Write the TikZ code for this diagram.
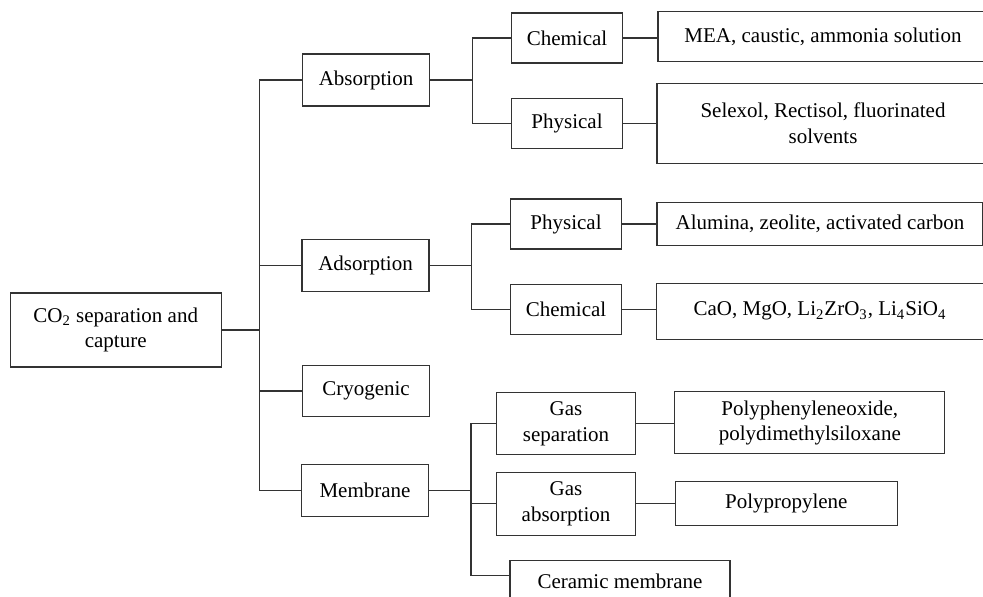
\documentclass[tikz,border=0pt]{standalone}
\usepackage{fontspec}
\setmainfont{Liberation Serif}
\usepackage{tikz}
\usetikzlibrary{calc}
\tikzset{>=latex}
\tikzset{
  box/.style={draw=black!80,line width=0.6pt,inner sep=1pt,align=center,
    font=\fontsize{10.5}{12.6}\selectfont},
  link/.style={draw=black!80,line width=0.6pt}
}

\begin{document}
\begin{tikzpicture}[x=0.5pt,y=-0.5pt]
    \useasboundingbox (0,0) rectangle (983,597);
    \clip (0,0) rectangle (983,597);
    \node[box,minimum width=105.5pt,minimum height=37pt] (root) at (115.7,330) {CO\textsubscript{2} separation and\\capture};
    \node[box,minimum width=63.5pt,minimum height=26pt] (absorp) at (366,80) {Absorption};
    \node[box,minimum width=63.5pt,minimum height=26pt] (adsorp) at (365.5,265.8) {Adsorption};
    \node[box,minimum width=63.5pt,minimum height=25.5pt] (cryo) at (366,391) {Cryogenic};
    \node[box,minimum width=63.5pt,minimum height=26pt] (membr) at (365,490.7) {Membrane};
    \node[box,minimum width=55.5pt,minimum height=25pt] (abschem) at (567,38) {Chemical};
    \node[box,minimum width=55.5pt,minimum height=25pt] (absphys) at (567,123.7) {Physical};
    \node[box,minimum width=55.5pt,minimum height=25pt] (adsphys) at (566,224) {Physical};
    \node[box,minimum width=55.5pt,minimum height=25pt] (adschem) at (566,309.3) {Chemical};
    \node[box,minimum width=69.25pt,minimum height=31pt] (gassep) at (566,423.8) {Gas\\separation};
    \node[box,minimum width=69.25pt,minimum height=31.5pt] (gasabs) at (566,503.7) {Gas\\absorption};
    \node[box,minimum width=110pt,minimum height=21pt] (ceramic) at (620,581.7) {Ceramic membrane};
    \node[box,minimum width=165pt,minimum height=25pt] (mea) at (823,36.7) {MEA, caustic, ammonia solution};
    \node[box,minimum width=166pt,minimum height=40pt] (selexol) at (823,123.2) {Selexol, Rectisol, fluorinated\\solvents};
    \node[box,minimum width=163pt,minimum height=21.5pt] (alumina) at (820,224.2) {Alumina, zeolite, activated carbon};
    \node[box,minimum width=163.5pt,minimum height=28pt] (cao) at (820,311.3) {CaO, MgO, Li\textsubscript{2}ZrO\textsubscript{3}, Li\textsubscript{4}SiO\textsubscript{4}};
    \node[box,minimum width=135pt,minimum height=31pt] (polyox) at (809.8,422.8) {Polyphenyleneoxide,\\polydimethylsiloxane};
    \node[box,minimum width=111pt,minimum height=22pt] (polypro) at (786.3,503.2) {Polypropylene};

    \coordinate (trunk) at (259.7,330);
    \coordinate (absfork) at (472.3,80);
    \coordinate (adsfork) at (471.7,265.8);
    \coordinate (memfork) at (471,490.7);

    \draw[link] (root.east) -- (trunk);
    \foreach \n in {absorp,adsorp,cryo,membr}
      \draw[link] (trunk) |- (\n.west);
    \draw[link] (absorp.east) -- (absfork);
    \foreach \n in {abschem,absphys}
      \draw[link] (absfork) |- (\n.west);
    \draw[link] (adsorp.east) -- (adsfork);
    \foreach \n in {adsphys,adschem}
      \draw[link] (adsfork) |- (\n.west);
    \draw[link] (membr.east) -- (memfork);
    \foreach \n in {gassep,gasabs}
      \draw[link] (memfork) |- (\n.west);
    \draw[link] (memfork) |- ([yshift=3pt]ceramic.west);
    \foreach \a/\b in {abschem/mea,absphys/selexol,adsphys/alumina,adschem/cao,gassep/polyox,gasabs/polypro}
      \draw[link] (\a.east) -- (\a.east -| \b.west);
  \end{tikzpicture}
\end{document}
